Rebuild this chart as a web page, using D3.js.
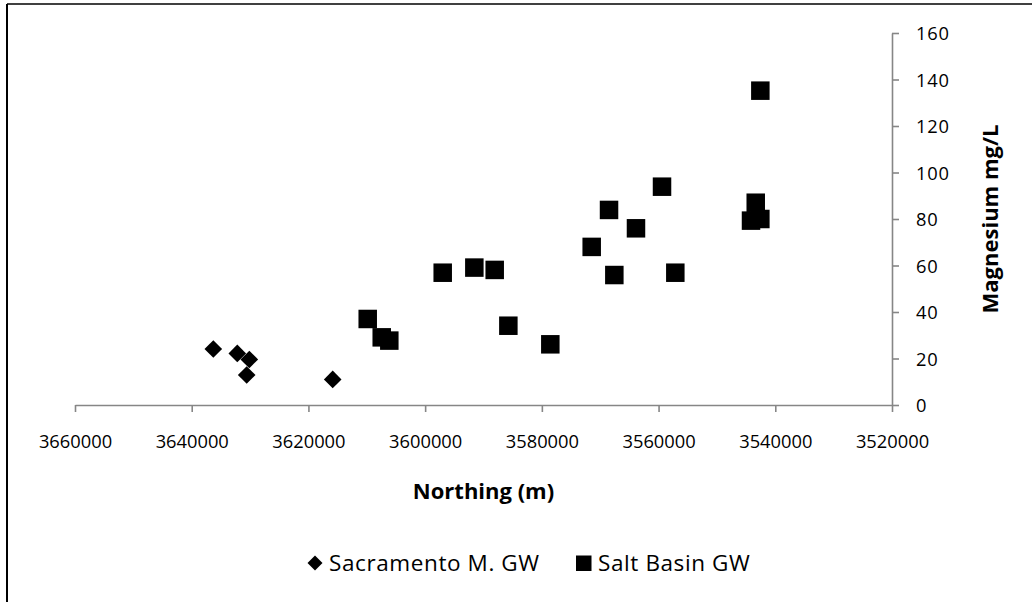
<!DOCTYPE html>
<html>
<head>
<meta charset="utf-8">
<script src="https://cdn.jsdelivr.net/npm/d3@7"></script>
<style>
  html, body { margin: 0; padding: 0; background: #fff; }
  svg { display: block; font-family: "Open Sans", Lato, sans-serif; }
</style>
</head>
<body>
<svg id="chart" width="1032" height="602"></svg>
<script>
// ---- data ----
const sacNorthing = [3636300, 3632190, 3630130, 3630580, 3615840];
const sacMg       = [24.1, 22.2, 19.6, 12.9, 11.0];

const saltNorthing = [3609840, 3607440, 3606140, 3596990, 3591570, 3588080, 3585740, 3578550,
                      3571460, 3568490, 3567580, 3563870, 3559410, 3557130, 3543350, 3544160,
                      3542560, 3542560];
const saltMg       = [37.0, 29.1, 27.7, 56.9, 59.1, 58.1, 34.1, 26.1,
                      68.0, 83.9, 55.9, 76.0, 93.9, 56.9, 87.0, 79.3,
                      80.0, 135.2];

const xTicks = [3660000, 3640000, 3620000, 3600000, 3580000, 3560000, 3540000, 3520000];
const yTicks = [0, 20, 40, 60, 80, 100, 120, 140, 160];
const seriesNames = ["Sacramento M. GW", "Salt Basin GW"];
const xTitle = "Northing (m)";
const yTitle = "Magnesium mg/L";

// ---- layout ----
(function () {
const svg = d3.select("#chart");
const pL = 75, pR = 892, pT = 33, pB = 405;
const x = d3.scaleLinear().domain([3660000, 3520000]).range([pL, pR]);
const y = d3.scaleLinear().domain([0, 160]).range([pB, pT]);
const tickFont = 18.3, titleFont = 22, legendFont = 22.5;
const axisColor = "#868686";
const ff = "'Open Sans', Lato, sans-serif";

// outer frame (cropped)
svg.append("line").attr("x1", 7).attr("x2", 1040).attr("y1", 4).attr("y2", 4)
  .attr("stroke", "#000").attr("stroke-width", 1.7);
svg.append("line").attr("x1", 7).attr("x2", 7).attr("y1", 4).attr("y2", 610)
  .attr("stroke", "#000").attr("stroke-width", 2);

// x axis
const gx = svg.append("g").attr("transform", `translate(0,${pB})`)
  .call(d3.axisBottom(x).tickValues(xTicks).tickSize(7).tickSizeOuter(0).tickFormat(d3.format("d")));
gx.select(".domain").attr("stroke", axisColor).attr("stroke-width", 1.6);
gx.selectAll(".tick line").attr("stroke", axisColor).attr("stroke-width", 1.6);
gx.selectAll(".tick text").attr("y", 43).attr("dy", 0)
  .attr("font-size", tickFont).attr("font-family", ff).attr("fill", "#000");

// y axis
const gy = svg.append("g").attr("transform", `translate(${pR},0)`)
  .call(d3.axisRight(y).tickValues(yTicks).tickSize(7).tickSizeOuter(0));
gy.select(".domain").attr("stroke", axisColor).attr("stroke-width", 1.6);
gy.selectAll(".tick line").attr("stroke", axisColor).attr("stroke-width", 1.6);
gy.selectAll(".tick text").attr("x", 24).attr("dy", "0.36em")
  .attr("font-size", tickFont).attr("font-family", ff).attr("fill", "#000")
  .attr("letter-spacing", 0.8);

// axis titles
svg.append("text").attr("x", (pL + pR) / 2).attr("y", 499)
  .attr("text-anchor", "middle").attr("font-weight", "bold").attr("font-size", titleFont)
  .text(xTitle);
svg.append("text").attr("transform", `translate(989,${(pT + pB) / 2}) rotate(-90)`)
  .attr("text-anchor", "middle").attr("dominant-baseline", "central")
  .attr("font-weight", "bold").attr("font-size", titleFont)
  .text(yTitle);

// markers
const diamond = s => `M0,${-s}L${s},0L0,${s}L${-s},0Z`;
const sacData = sacNorthing.map((n, i) => ({ n, v: sacMg[i] }));
const saltData = saltNorthing.map((n, i) => ({ n, v: saltMg[i] }));

svg.append("g").selectAll("path").data(sacData).join("path")
  .attr("transform", d => `translate(${x(d.n)},${y(d.v)})`)
  .attr("d", diamond(8.8)).attr("fill", "#000");

const sq = 18.5;
svg.append("g").selectAll("rect").data(saltData).join("rect")
  .attr("x", d => x(d.n) - sq / 2).attr("y", d => y(d.v) - sq / 2)
  .attr("width", sq).attr("height", sq).attr("fill", "#000");

// legend
const lg = svg.append("g");
lg.append("path").attr("transform", "translate(315,563)").attr("d", diamond(7.5)).attr("fill", "#000");
lg.append("text").attr("x", 329).attr("y", 571).attr("font-size", legendFont)
  .attr("letter-spacing", 0.6).text(seriesNames[0]);
lg.append("rect").attr("x", 576).attr("y", 555.5).attr("width", 15.5).attr("height", 15.5).attr("fill", "#000");
lg.append("text").attr("x", 598).attr("y", 571).attr("font-size", legendFont)
  .attr("letter-spacing", 0.6).text(seriesNames[1]);
})();
</script>
</body>
</html>
